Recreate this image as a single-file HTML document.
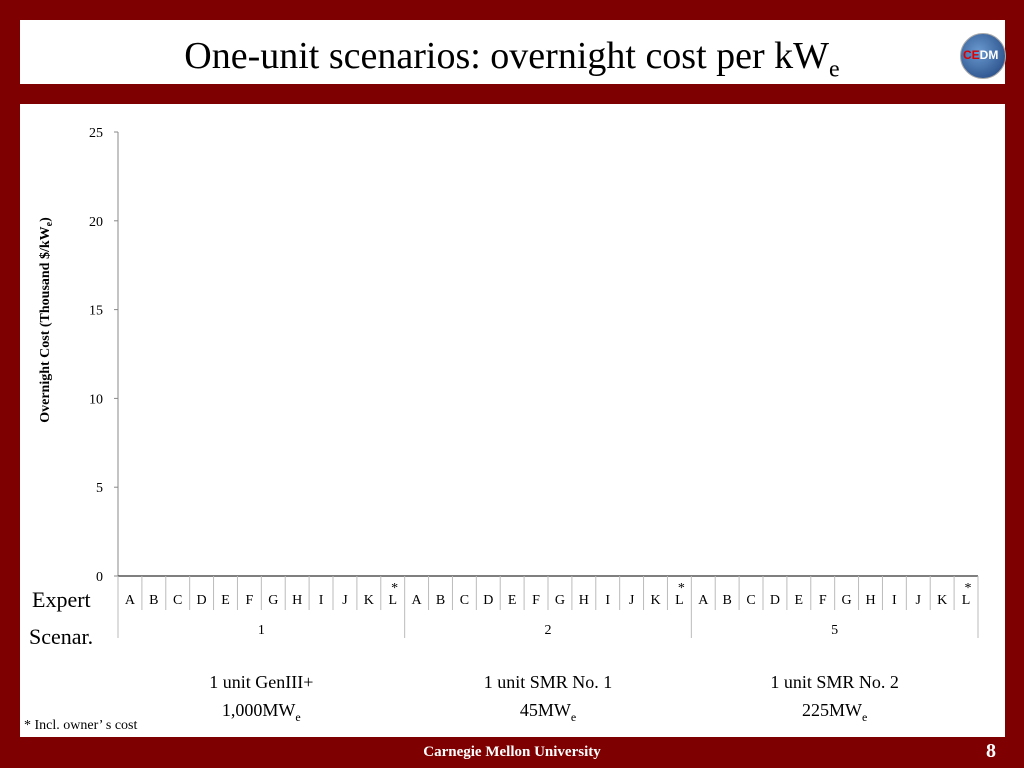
<!DOCTYPE html>
<html><head><meta charset="utf-8">
<style>
body{margin:0;width:1024px;height:768px;background:#7f0000;position:relative;overflow:hidden;font-family:"Liberation Serif",serif;}
#title{position:absolute;left:20px;top:20px;width:985px;height:64px;background:#fff;}
#title h1{margin:0;position:absolute;left:0;width:1024px;top:14px;text-align:center;font-weight:normal;font-size:38px;color:#000;line-height:44px;}
#content{position:absolute;left:20px;top:104px;width:985px;height:633px;background:#fff;}
#logo{position:absolute;left:960px;top:33px;width:44px;height:44px;border-radius:50%;background:radial-gradient(circle at 40% 40%,#6a9ad0,#1c3f7a);border:1px solid #aaa;}
#logo span{position:absolute;left:2px;top:14px;font:bold 12px "Liberation Sans",sans-serif;color:#fff}
#logo b{color:#d00}
#footer{position:absolute;left:0;width:1024px;top:744px;text-align:center;color:#fff;font-weight:bold;font-size:15px;}
#pnum{position:absolute;left:986px;top:740px;color:#fff;font-weight:bold;font-size:20px;}
svg{position:absolute;left:0;top:0}
</style></head><body>
<div id="title"><h1 style="left:-20px">One-unit scenarios: overnight cost per kW<sub style="font-size:24px">e</sub></h1></div>
<div id="logo"><span><b>CE</b>DM</span></div>
<div id="content"></div>
<svg id="chart" width="1024" height="768"></svg>
<div id="footer">Carnegie Mellon University</div>
<div id="pnum">8</div>
<script>
const yTicks=[0,5,10,15,20,25];
const experts=["A","B","C","D","E","F","G","H","I","J","K","L"];
const scenarios=["1","2","5"];
const groupTitles=[["1 unit GenIII+","1,000MW","e"],["1 unit SMR No. 1","45MW","e"],["1 unit SMR No. 2","225MW","e"]];
const values=[[],[],[]];
const X0=118,X1=978,Y0=576,Y1=132,YMAX=25;
const svg=document.getElementById('chart');
const NS="http://www.w3.org/2000/svg";
const n=experts.length*scenarios.length,cw=(X1-X0)/n;
const y=v=>Y0-(v/YMAX)*(Y0-Y1);
const x=i=>X0+i*cw;
function mk(t,a,txt){const e=document.createElementNS(NS,t);for(const k in a)e.setAttribute(k,a[k]);if(txt!=null)e.textContent=txt;svg.appendChild(e);return e;}
let e=mk('line',{x1:X0,x2:X0,y1:Y1,y2:Y0,stroke:'#888','stroke-width':1});


e=mk('line',{x1:X0,x2:X1,y1:Y0,y2:Y0,stroke:'#555','stroke-width':1.5});


yTicks.forEach(v=>{
 let t=mk('line',{x1:X0-4,x2:X0,y1:y(v),y2:y(v),stroke:'#888'});
 
 
 let l=mk('text',{x:X0-15,y:y(v)+5,'text-anchor':'end','font-size':14,'font-family':'Liberation Serif'},v);
 
 
});
e=mk('text',{transform:'translate(49,320) rotate(-90)','text-anchor':'middle','font-size':14,'font-weight':'bold','font-family':'Liberation Serif'},'Overnight Cost (Thousand $/kW');


const ts=document.createElementNS(NS,'tspan');ts.setAttribute('font-size','10');ts.setAttribute('dy','3');ts.textContent='e';e.appendChild(ts);
const ts2=document.createElementNS(NS,'tspan');ts2.setAttribute('dy','-3');ts2.textContent=')';e.appendChild(ts2);
for(let i=0;i<=n;i++){
 const grp=i%experts.length===0;
 let t=mk('line',{x1:x(i),x2:x(i),y1:Y0,y2:grp?638:610,stroke:'#bbb'});
 
 
}
scenarios.forEach((s,g)=>{
 experts.forEach((ex,j)=>{
  const i=g*experts.length+j;
  let l=mk('text',{x:x(i)+cw/2,y:604,'text-anchor':'middle','font-size':14,'font-family':'Liberation Serif'},ex);
  
  
  const v=values[g][j];
  if(v!=null){let b=mk('rect',{x:x(i)+3,width:cw-6,y:y(v),height:Y0-y(v),fill:'#800'});
   
   }
 });
 let st=mk('text',{x:x((g+1)*experts.length)-10,y:592,'text-anchor':'middle','font-size':14,'font-family':'Liberation Serif'},'*');
 
 
 const cx=x(g*experts.length+experts.length/2);
 let sl=mk('text',{x:cx,y:634,'text-anchor':'middle','font-size':14,'font-family':'Liberation Serif'},s);
 
 
 let g1=mk('text',{x:cx,y:688,'text-anchor':'middle','font-size':18,'font-family':'Liberation Serif'},groupTitles[g][0]);
 
 
 let g2=mk('text',{x:cx,y:716,'text-anchor':'middle','font-size':18,'font-family':'Liberation Serif'},groupTitles[g][1]);
 
 
 const sub=document.createElementNS(NS,'tspan');sub.setAttribute('font-size','12');sub.setAttribute('dy','5');sub.textContent=groupTitles[g][2];g2.appendChild(sub);
});
e=mk('text',{x:32,y:607,'font-size':22,'font-family':'Liberation Serif'},'Expert');


e=mk('text',{x:29,y:644,'font-size':22,'font-family':'Liberation Serif'},'Scenar.');


e=mk('text',{x:24,y:729,'font-size':14,'font-family':'Liberation Serif'},'* Incl. owner’ s cost');


</script>
</body></html>
